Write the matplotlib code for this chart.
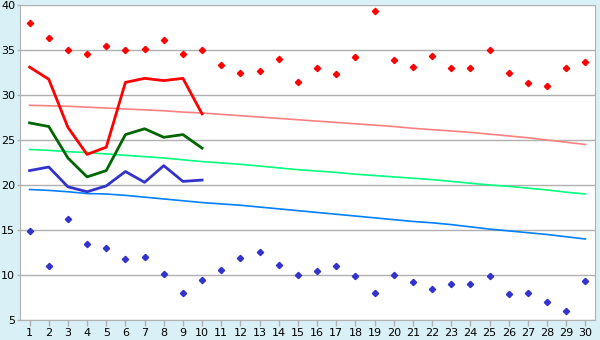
import numpy as np
import matplotlib
matplotlib.use("Agg")
import matplotlib.pyplot as plt

# Data
#################################################################################################################

days = list(range(1, 31))

rec_max = [38.0, 36.3, 35.0, 34.6, 35.4, 35.0, 35.1, 36.1, 34.6, 35.0,
           33.3, 32.5, 32.7, 34.0, 31.4, 33.0, 32.3, 34.2, 39.3, 33.85,
           33.1, 34.3, 33.0, 33.0, 35.0, 32.4, 31.3, 31.0, 33.0, 33.7]
rec_min = [14.85, 11.0, 16.2, 13.5, 13.0, 11.75, 12.0, 10.1, 8.0, 9.4,
           10.6, 11.85, 12.6, 11.1, 10.0, 10.5, 11.0, 9.85, 8.0, 10.0,
           9.2, 8.5, 9.0, 9.0, 9.85, 7.85, 8.0, 7.0, 6.0, 9.3]

obs_days = list(range(1, 11))
obs_max = [33.1, 31.75, 26.4, 23.4, 24.2, 31.4, 31.85, 31.6, 31.85, 27.9]
obs_mean = [26.9, 26.5, 23.0, 20.9, 21.6, 25.6, 26.25, 25.3, 25.6, 24.1]
obs_min = [21.6, 22.0, 19.8, 19.25, 19.9, 21.5, 20.3, 22.15, 20.4, 20.55]

norm_max = [28.85, 28.8, 28.75, 28.65, 28.55, 28.45, 28.35, 28.25, 28.1, 28.0,
            27.85, 27.7, 27.55, 27.4, 27.25, 27.1, 26.95, 26.8, 26.65, 26.5,
            26.3, 26.15, 26.0, 25.85, 25.65, 25.45, 25.25, 25.0, 24.75, 24.5]
norm_mean = [23.95, 23.85, 23.7, 23.6, 23.45, 23.3, 23.15, 23.0, 22.8, 22.6,
             22.45, 22.3, 22.1, 21.9, 21.7, 21.55, 21.4, 21.2, 21.05, 20.9,
             20.75, 20.6, 20.4, 20.2, 20.0, 19.85, 19.65, 19.45, 19.2, 19.0]
norm_min = [19.5, 19.4, 19.25, 19.05, 19.0, 18.85, 18.65, 18.45, 18.25, 18.05,
            17.9, 17.75, 17.55, 17.35, 17.15, 16.95, 16.75, 16.55, 16.35, 16.15,
            15.95, 15.8, 15.6, 15.35, 15.1, 14.9, 14.7, 14.5, 14.25, 14.0]

# Plot
#################################################################################################################

bg = '#d9f0f7'
grid_c = '#b0b0b0'

fig = plt.figure(figsize=(6, 3.4), dpi=100, facecolor=bg)
ax = fig.add_axes([20/600, 20/340, 575/600, 315/340])
ax.set_facecolor('white')

ax.plot(days, norm_max, color='#ff8080', lw=1.2)
ax.plot(days, norm_mean, color='#00ff80', lw=1.2)
ax.plot(days, norm_min, color='#0080ff', lw=1.2)

ax.plot(obs_days, obs_max, color='#ff0000', lw=2)
ax.plot(obs_days, obs_mean, color='#006600', lw=2)
ax.plot(obs_days, obs_min, color='#3333cc', lw=2)

ax.plot(days, rec_max, ls='none', marker='D', ms=3.2, color='#ff0000')
ax.plot(days, rec_min, ls='none', marker='D', ms=3.2, color='#3333cc')

ax.set_xlim(0.5, 30.5)
ax.set_ylim(5, 40)
ax.set_yticks(range(5, 41, 5))
ax.set_xticks(days)
ax.yaxis.grid(True, color=grid_c, lw=1)
ax.set_axisbelow(True)

for s in ['left', 'bottom', 'right']:
    ax.spines[s].set_color(grid_c)
ax.spines['top'].set_visible(False)
ax.tick_params(axis='x', colors=grid_c, labelcolor='black', labelsize=8, length=4, width=1, pad=2)
ax.tick_params(axis='y', colors=grid_c, labelcolor='black', labelsize=8, length=2.5, width=1, pad=1)

fig.savefig('out.png', dpi=100, facecolor=bg)
